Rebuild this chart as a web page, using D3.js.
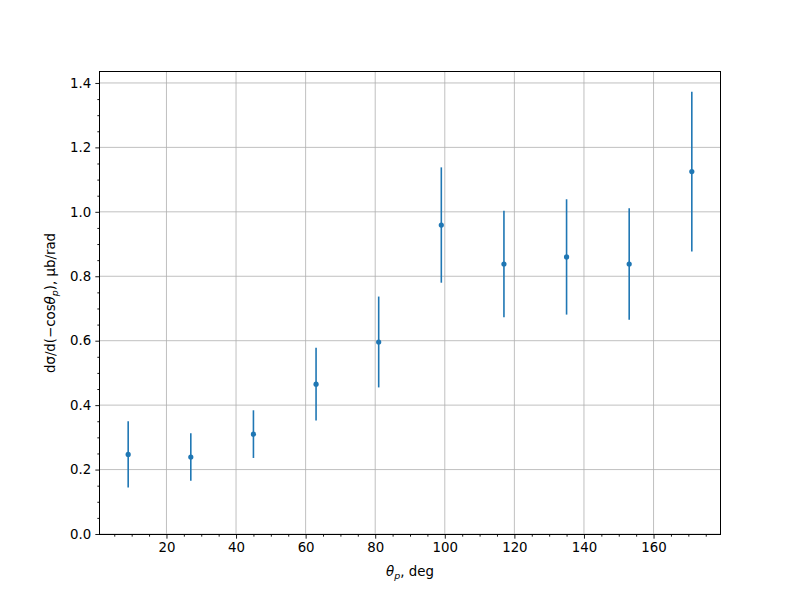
<!DOCTYPE html>
<html>
<head>
<meta charset="utf-8">
<script src="https://cdn.jsdelivr.net/npm/d3@7"></script>
<style>
body { margin: 0; background: #fff; }
svg { display: block; }
text { font-family: "DejaVu Sans", sans-serif; }
</style>
</head>
<body>
<svg id="chart" width="800" height="600"></svg>
<script>
const angles = [9, 27, 45, 63, 81, 99, 117, 135, 153, 171];
const values = [0.247, 0.239, 0.310, 0.465, 0.596, 0.959, 0.838, 0.860, 0.838, 1.125];
const errors = [0.103, 0.074, 0.074, 0.113, 0.141, 0.179, 0.165, 0.179, 0.173, 0.248];
const xTicks = [20, 40, 60, 80, 100, 120, 140, 160];
const yTicks = [0.0, 0.2, 0.4, 0.6, 0.8, 1.0, 1.2, 1.4];

const svg = d3.select("#chart");
const L = 100, R = 720, T = 72, B = 534;
const x = d3.scaleLinear().domain([0.9, 179.1]).range([L, R]);
const y = d3.scaleLinear().domain([0, 1.434]).range([B, T]);
const color = "#1f77b4";

// grid
const g = svg.append("g");
g.selectAll(".vg").data(xTicks).enter().append("line")
  .attr("x1", d => x(d)).attr("x2", d => x(d)).attr("y1", T).attr("y2", B)
  .attr("stroke", "#b0b0b0").attr("stroke-width", 0.8);
g.selectAll(".hg").data(yTicks).enter().append("line")
  .attr("y1", d => y(d)).attr("y2", d => y(d)).attr("x1", L).attr("x2", R)
  .attr("stroke", "#b0b0b0").attr("stroke-width", 0.8);

// error bars
svg.append("g").selectAll("line").data(angles).enter().append("line")
  .attr("x1", d => x(d)).attr("x2", d => x(d))
  .attr("y1", (d, i) => y(values[i] - errors[i]))
  .attr("y2", (d, i) => y(values[i] + errors[i]))
  .attr("stroke", color).attr("stroke-width", 1.6);
svg.append("g").selectAll("circle").data(angles).enter().append("circle")
  .attr("cx", d => x(d)).attr("cy", (d, i) => y(values[i]))
  .attr("r", 2.6).attr("fill", color);

// axes
const xMinor = d3.range(5, 180, 5).filter(v => v % 20 !== 0 && v > 0.9 && v < 179.1);
const yMinor = d3.range(0, 1.434, 0.05).map(v => +v.toFixed(2)).filter(v => Math.round(v * 100) % 20 !== 0);

svg.append("g").attr("transform", `translate(0,${B})`)
  .call(d3.axisBottom(x).tickValues(xTicks).tickSize(4.67).tickPadding(4.2).tickFormat(d3.format("d")));
svg.append("g").attr("transform", `translate(0,${B})`)
  .call(d3.axisBottom(x).tickValues(xMinor).tickSize(2.67).tickFormat(""));
svg.append("g").attr("transform", `translate(${L},0)`)
  .call(d3.axisLeft(y).tickValues(yTicks).tickSize(4.67).tickPadding(4.2).tickFormat(d3.format(".1f")));
svg.append("g").attr("transform", `translate(${L},0)`)
  .call(d3.axisLeft(y).tickValues(yMinor).tickSize(2.67).tickFormat(""));

svg.selectAll(".tick text").attr("font-size", 13.33).attr("fill", "#000").style("font-family", "DejaVu Sans, sans-serif");
svg.selectAll(".tick line").attr("stroke", "#000").attr("stroke-width", 0.9);
svg.selectAll(".domain").remove();

// frame
svg.append("rect").attr("x", L - 0.5).attr("y", T - 0.5).attr("width", R - L + 1).attr("height", B - T + 1)
  .attr("fill", "none").attr("stroke", "#000").attr("stroke-width", 1)
  .attr("shape-rendering", "crispEdges");

// labels
const xl = svg.append("text").attr("x", (L + R) / 2).attr("y", 576)
  .attr("text-anchor", "middle").attr("font-size", 13.33);
xl.append("tspan").attr("font-style", "italic").text("θ");
xl.append("tspan").attr("font-style", "italic").attr("font-size", 9.5).attr("dy", 2.5).text("p");
xl.append("tspan").attr("dy", -2.5).text(", deg");

const yl = svg.append("text").attr("transform", `translate(55,${(T + B) / 2}) rotate(-90)`)
  .attr("text-anchor", "middle").attr("font-size", 13.33);
yl.append("tspan").text("dσ/d(−cos");
yl.append("tspan").attr("font-style", "italic").text("θ");
yl.append("tspan").attr("font-style", "italic").attr("font-size", 9.5).attr("dy", 2.5).text("p");
yl.append("tspan").attr("dy", -2.5).text("), μb/rad");
</script>
</body>
</html>
